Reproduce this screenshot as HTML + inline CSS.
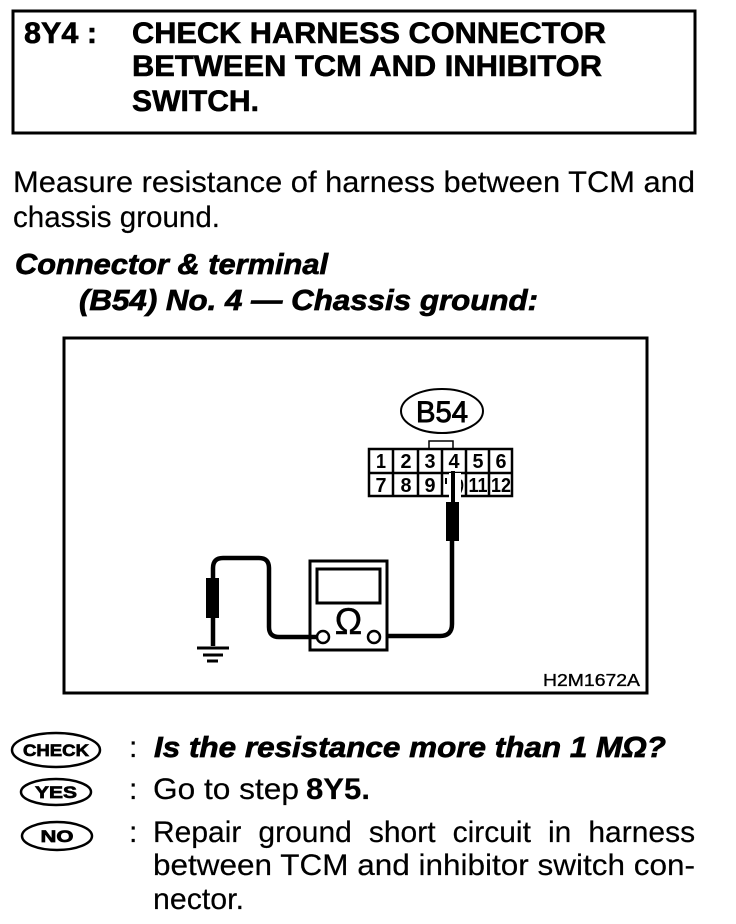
<!DOCTYPE html>
<html><head><meta charset="utf-8">
<style>
html,body{margin:0;padding:0;background:#fff}
svg{display:block}
text{font-family:"Liberation Sans",sans-serif;fill:#000}
.h{font-size:30px;font-weight:bold;stroke:#000;stroke-width:.6px}
.b{font-size:30px;stroke:#000;stroke-width:.2px}
.bi{font-size:29px;font-weight:bold;font-style:italic;stroke:#000;stroke-width:.7px}
.n{font-size:20px;font-weight:bold;text-anchor:middle}
</style></head><body>
<svg width="736" height="924" viewBox="0 0 736 924" xmlns="http://www.w3.org/2000/svg">
<rect x="13" y="11" width="682" height="122" fill="none" stroke="#000" stroke-width="3"/>
<text class="h" x="24" y="43" textLength="73" lengthAdjust="spacingAndGlyphs">8Y4 :</text>
<text class="h" x="132" y="43" textLength="474" lengthAdjust="spacingAndGlyphs">CHECK HARNESS CONNECTOR</text>
<text class="h" x="132" y="76" textLength="470" lengthAdjust="spacingAndGlyphs">BETWEEN TCM AND INHIBITOR</text>
<text class="h" x="132" y="111" textLength="127" lengthAdjust="spacingAndGlyphs">SWITCH.</text>

<text class="b" x="13" y="192" textLength="682" lengthAdjust="spacingAndGlyphs">Measure resistance of harness between TCM and</text>
<text class="b" x="13" y="227" textLength="207" lengthAdjust="spacingAndGlyphs">chassis ground.</text>
<text class="bi" x="15" y="274" textLength="313" lengthAdjust="spacingAndGlyphs">Connector &amp; terminal</text>
<text class="bi" x="79" y="310" textLength="459" lengthAdjust="spacingAndGlyphs">(B54) No. 4 — Chassis ground:</text>

<rect x="64" y="338" width="583" height="355" fill="none" stroke="#000" stroke-width="3"/>
<ellipse cx="442" cy="411" rx="41" ry="22" fill="none" stroke="#000" stroke-width="2"/>
<text x="442" y="422" font-size="30" text-anchor="middle" stroke="#000" stroke-width=".9" textLength="52" lengthAdjust="spacingAndGlyphs">B54</text>
<rect x="429" y="441" width="24" height="8" fill="none" stroke="#000" stroke-width="1.5"/>
<rect x="369" y="449" width="143" height="47" fill="#fff" stroke="#000" stroke-width="2.5"/>
<path d="M369 473H512M393 449V496M418 449V496M442 449V496M466 449V496M489 449V496" stroke="#000" stroke-width="2.5" fill="none"/>
<g>
<text class="n" x="381" y="468" textLength="10" lengthAdjust="spacingAndGlyphs">1</text><text class="n" x="406" y="468" textLength="11" lengthAdjust="spacingAndGlyphs">2</text><text class="n" x="430" y="468" textLength="11" lengthAdjust="spacingAndGlyphs">3</text><text class="n" x="454" y="468" textLength="11" lengthAdjust="spacingAndGlyphs">4</text><text class="n" x="478" y="468" textLength="11" lengthAdjust="spacingAndGlyphs">5</text><text class="n" x="501" y="468" textLength="11" lengthAdjust="spacingAndGlyphs">6</text>
<text class="n" x="381" y="492" textLength="11" lengthAdjust="spacingAndGlyphs">7</text><text class="n" x="406" y="492" textLength="11" lengthAdjust="spacingAndGlyphs">8</text><text class="n" x="430" y="492" textLength="11" lengthAdjust="spacingAndGlyphs">9</text>
<text class="n" x="478" y="492" textLength="19" lengthAdjust="spacingAndGlyphs">11</text><text class="n" x="501" y="492" textLength="20" lengthAdjust="spacingAndGlyphs">12</text>
</g>
<path d="M446 478V484M461 480Q464 486 460 493" stroke="#000" stroke-width="2" fill="none"/>
<rect x="449" y="473" width="12" height="27" fill="#fff"/>
<path d="M453 471V503" stroke="#000" stroke-width="4"/>
<rect x="446" y="502" width="13" height="39" fill="#000"/>
<path d="M452 540V624Q452 636 440 636H381" fill="none" stroke="#000" stroke-width="4.5"/>
<rect x="310" y="561" width="77" height="89" fill="#fff" stroke="#000" stroke-width="3"/>
<rect x="317" y="569" width="63" height="34" fill="none" stroke="#000" stroke-width="3"/>
<text x="348.500" y="634" font-size="37" text-anchor="middle" stroke="#000" stroke-width=".4">Ω</text>
<circle cx="323" cy="637" r="6" fill="#fff" stroke="#000" stroke-width="2.5"/>
<circle cx="374" cy="637" r="6" fill="#fff" stroke="#000" stroke-width="2.5"/>
<path d="M317 637H279Q269 637 269 627V568Q269 558 259 558H223Q213 558 213 568V646" fill="none" stroke="#000" stroke-width="4.500"/>
<rect x="206" y="578" width="13" height="40" fill="#000"/>
<path d="M197 648H229M203 655H223M207 661H218" stroke="#000" stroke-width="3" fill="none"/>
<text x="543" y="686" font-size="17.500" stroke="#000" stroke-width=".35" textLength="97" lengthAdjust="spacingAndGlyphs">H2M1672A</text>

<ellipse cx="56" cy="750" rx="44" ry="17" fill="none" stroke="#000" stroke-width="2.5"/>
<text x="56" y="756" font-size="17" font-weight="bold" text-anchor="middle" stroke="#000" stroke-width=".7" textLength="66" lengthAdjust="spacingAndGlyphs">CHECK</text>
<ellipse cx="56" cy="792" rx="35" ry="13" fill="none" stroke="#000" stroke-width="2.5"/>
<text x="56" y="798" font-size="17" font-weight="bold" text-anchor="middle" stroke="#000" stroke-width=".7" textLength="42" lengthAdjust="spacingAndGlyphs">YES</text>
<ellipse cx="57" cy="836" rx="35" ry="14" fill="none" stroke="#000" stroke-width="2.5"/>
<text x="57" y="842" font-size="17" font-weight="bold" text-anchor="middle" stroke="#000" stroke-width=".7" textLength="33" lengthAdjust="spacingAndGlyphs">NO</text>

<text class="b" x="129" y="757">:</text>
<text class="bi" x="154" y="757" textLength="512" lengthAdjust="spacingAndGlyphs">Is the resistance more than 1 MΩ?</text>
<text class="b" x="129" y="799">:</text>
<text class="b" x="153" y="799" textLength="146" lengthAdjust="spacingAndGlyphs">Go to step</text>
<text class="b" x="306" y="799" font-weight="bold" textLength="64" lengthAdjust="spacingAndGlyphs">8Y5.</text>
<text class="b" x="129" y="842">:</text>
<text class="b" x="153" y="842" style="word-spacing:8.7px">Repair ground short circuit in harness</text>
<text class="b" x="153" y="875" textLength="542" lengthAdjust="spacingAndGlyphs">between TCM and inhibitor switch con-</text>
<text class="b" x="153" y="909" textLength="91" lengthAdjust="spacingAndGlyphs">nector.</text>
</svg>
</body></html>
